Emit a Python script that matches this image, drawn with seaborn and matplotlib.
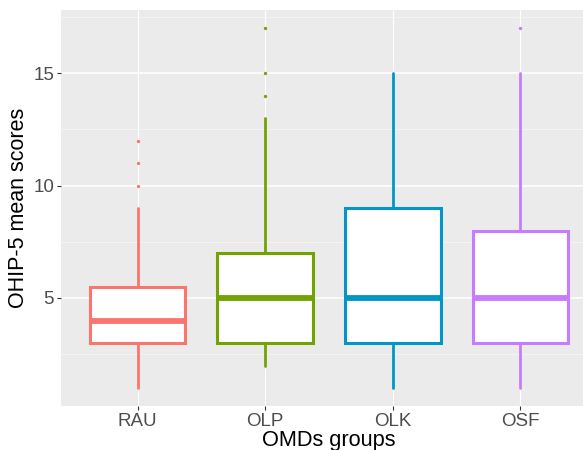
import matplotlib
matplotlib.use("Agg")
import matplotlib.pyplot as plt
import seaborn as sns
from matplotlib.ticker import MultipleLocator

GROUPS = ["RAU", "OLP", "OLK", "OSF"]
COLORS = ["#F8766D", "#72A300", "#0097C6", "#C77CFF"]

# box statistics
WHIS_LO = [1, 2, 1, 1]
Q1 = [3, 3, 3, 3]
MEDIAN = [4, 5, 5, 5]
Q3 = [5.5, 7, 9, 8]
WHIS_HI = [9, 13, 15, 15]
OUTLIERS = [[10, 11, 12], [14, 15, 17], [], [17]]

sns.set_theme(style="darkgrid", rc={
    "axes.facecolor": "#EBEBEB",
    "grid.color": "white",
    "axes.edgecolor": "#EBEBEB",
})
plt.rcParams["font.family"] = ["Liberation Sans", "DejaVu Sans"]

fig = plt.figure(figsize=(5.83, 4.5), dpi=100)
ax = fig.add_axes([61 / 583, 44 / 450, 536 / 583, 396 / 450])

stats = []
for i, g in enumerate(GROUPS):
    stats.append(dict(label=g, whislo=WHIS_LO[i], q1=Q1[i], med=MEDIAN[i],
                      q3=Q3[i], whishi=WHIS_HI[i], fliers=OUTLIERS[i]))

for i, s in enumerate(stats):
    c = COLORS[i]
    ax.bxp([s], positions=[i], widths=0.75, showcaps=False, patch_artist=True,
           boxprops=dict(facecolor="white", edgecolor=c, linewidth=2.2),
           whiskerprops=dict(color=c, linewidth=2.0),
           medianprops=dict(color=c, linewidth=4.2, solid_capstyle="butt"),
           flierprops=dict(marker="o", markersize=2.4, markerfacecolor=c,
                           markeredgecolor="none"),
           manage_ticks=False)

ax.set_xlim(-0.6, 3.6)
ax.set_ylim(0.2, 17.8)
ax.set_xticks(range(len(GROUPS)))
ax.set_xticklabels(GROUPS)
ax.yaxis.set_major_locator(MultipleLocator(5))
ax.yaxis.set_minor_locator(MultipleLocator(2.5))
ax.grid(True, which="major", axis="y", color="white", linewidth=1.1)
ax.grid(True, which="major", axis="x", color="white", linewidth=0.8)
ax.grid(True, which="minor", axis="y", color="#F5F5F5", linewidth=0.6)
ax.set_axisbelow(True)

ax.tick_params(axis="both", which="major", labelsize=13.5, labelcolor="#4D4D4D",
               length=3, width=0.8, color="#333333", pad=2, left=True, bottom=True)
ax.tick_params(axis="y", which="minor", length=0)
for sp in ax.spines.values():
    sp.set_visible(False)

ax.set_xlabel("OMDs groups", fontsize=15.7, color="black", labelpad=0)
ax.set_ylabel("OHIP-5 mean scores", fontsize=15.5, color="black", labelpad=3)

fig.savefig("out.png", dpi=100)
